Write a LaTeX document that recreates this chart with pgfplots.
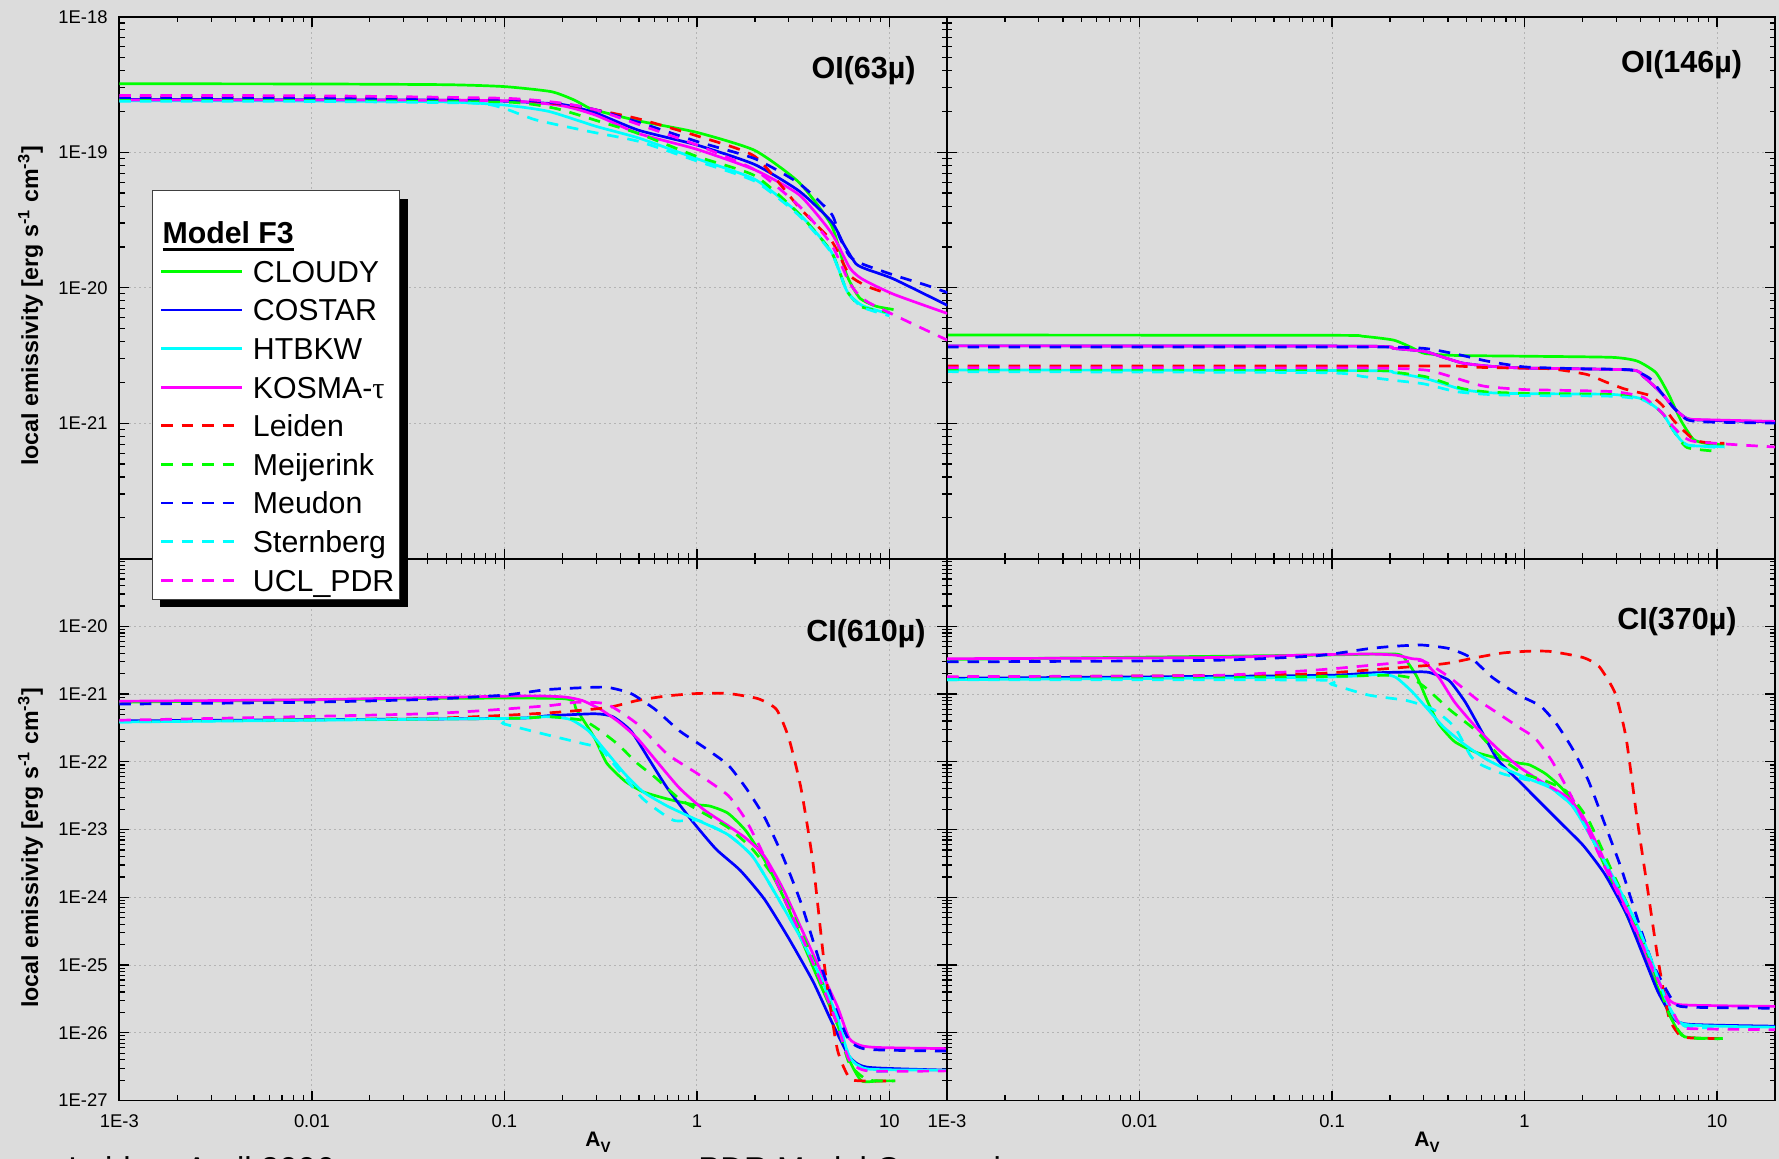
\documentclass[border=0pt]{standalone}
\usepackage{fontspec}
\setmainfont{Liberation Sans}
\newfontfamily\serifgreek{Liberation Serif}
\usepackage{pgfplots}
\pgfplotsset{compat=1.18}
\usetikzlibrary{shadows}

\definecolor{bg}{RGB}{220,220,220}
\definecolor{gridc}{RGB}{180,180,180}
\definecolor{cG}{RGB}{0,255,0}
\definecolor{cB}{RGB}{0,0,255}
\definecolor{cC}{RGB}{0,255,255}
\definecolor{cM}{RGB}{255,0,255}
\definecolor{cR}{RGB}{255,0,0}

\newcommand\ulbf[1]{\smash{\vtop{\hbox{\bfseries #1}\kern1.9pt\hrule height 1.5pt}}}

\makeatletter
\tikzset{clearpre/.code={\def\tikz@preactions{}\def\tikz@postactions{}}}
\makeatother

\tikzset{
 solA/.style={solid, line width=1.35pt, smooth, tension=0.35},
 dasA/.style={dash pattern=on 5.75pt off 4.5pt, line width=1.35pt, smooth, tension=0.35},
 cloudy/.style={solA, color=cG},
 costar/.style={solA, color=cB},
 htbkw/.style={solA, color=cC},
 kosma/.style={solA, color=cM},
 leiden/.style={dasA, color=cR},
 meijerink/.style={dasA, color=cG},
 meudon/.style={dasA, color=cB},
 sternberg/.style={dasA, color=cC},
 ucl/.style={dasA, color=cM},
}

\pgfplotsset{
 basepanelA/.style={
  scale only axis, width=414pt, height=270.95pt,
  xmin=1e-3, xmax=20,
  axis line style={black, line width=0.9pt},
  tick style={black, line width=0.6pt},
  major tick length=5pt, minor tick length=2.75pt,
  grid=major,
  major grid style={gridc, line width=0.5pt, dash pattern=on 1pt off 1.5pt},
  tick label style={font=\fontsize{9.2pt}{11pt}\selectfont, inner sep=0pt},
  yticklabel style={xshift=-5.7pt},
  xticklabel style={yshift=-6.75pt},
  xtick={1e-3,1e-2,1e-1,1,10},
  minor xtick={2e-3,3e-3,4e-3,5e-3,6e-3,7e-3,8e-3,9e-3,2e-2,3e-2,4e-2,5e-2,6e-2,7e-2,8e-2,9e-2,0.2,0.3,0.4,0.5,0.6,0.7,0.8,0.9,2,3,4,5,6,7,8,9},
 },
 toppanelA/.style={basepanelA, ymin=1e-22, ymax=1e-18,
  ytick={1e-22,1e-21,1e-20,1e-19,1e-18},
  minor ytick={2e-22,3e-22,4e-22,5e-22,6e-22,7e-22,8e-22,9e-22,2e-21,3e-21,4e-21,5e-21,6e-21,7e-21,8e-21,9e-21,2e-20,3e-20,4e-20,5e-20,6e-20,7e-20,8e-20,9e-20,2e-19,3e-19,4e-19,5e-19,6e-19,7e-19,8e-19,9e-19},
  xticklabels={,,,,,,}},
 botpanelA/.style={basepanelA, ymin=1e-27, ymax=1e-19,
  xticklabels={1E-3,0.01,0.1,1,10},
  ytick={1e-27,1e-26,1e-25,1e-24,1e-23,1e-22,1e-21,1e-20,1e-19},
  minor ytick={2e-27,3e-27,4e-27,5e-27,6e-27,7e-27,8e-27,9e-27,2e-26,3e-26,4e-26,5e-26,6e-26,7e-26,8e-26,9e-26,2e-25,3e-25,4e-25,5e-25,6e-25,7e-25,8e-25,9e-25,2e-24,3e-24,4e-24,5e-24,6e-24,7e-24,8e-24,9e-24,2e-23,3e-23,4e-23,5e-23,6e-23,7e-23,8e-23,9e-23,2e-22,3e-22,4e-22,5e-22,6e-22,7e-22,8e-22,9e-22,2e-21,3e-21,4e-21,5e-21,6e-21,7e-21,8e-21,9e-21,2e-20,3e-20,4e-20,5e-20,6e-20,7e-20,8e-20,9e-20}},
}

\begin{document}
\begin{tikzpicture}
\useasboundingbox (0pt,0pt) rectangle (889.5pt,579.5pt);
\clip (0pt,0pt) rectangle (889.5pt,579.5pt);
\fill[bg] (0pt,0pt) rectangle (889.5pt,579.5pt);

% ---------------- bottom left: CI(610)
\begin{axis}[xmode=log, ymode=log, botpanelA, at={(59.7pt,29.25pt)}, anchor=south west,
  yticklabels={1E-27,1E-26,1E-25,1E-24,1E-23,1E-22,1E-21,1E-20,}]
\addplot[cloudy] coordinates {(1e-3,7.56e-22)(0.0385,8.6e-22)(0.204,8.54e-22)(0.236,5.93e-22)(0.294,2.24e-22)(0.34,9.56e-23)(0.422,5.21e-23)(0.525,3.61e-23)(0.702,2.83e-23)(0.938,2.36e-23)(1.167,2.22e-23)(1.45,1.74e-23)(1.80,9.5e-24)(2.24,3.58e-24)(2.79,1.06e-24)(3.47,2.47e-25)(4.31,5.7e-26)(5.36,1.33e-26)(6.19,3.95e-27)(7.16,1.95e-27)(8.9,1.95e-27)(10.7,1.95e-27)};
\addplot[costar] coordinates {(1e-3,4.02e-22)(0.0989,4.37e-22)(0.164,4.76e-22)(0.294,5.12e-22)(0.365,4.65e-22)(0.454,2.86e-22)(0.565,1.08e-22)(0.702,4.08e-23)(0.938,1.37e-23)(1.255,5.16e-24)(1.68,2.49e-24)(2.24,9.4e-25)(3.0,2.47e-25)(4.01,5.7e-26)(4.98,1.51e-26)(6.19,4.46e-27)(7.7,3.10e-27)(20,2.81e-27)};
\addplot[htbkw] coordinates {(1e-3,3.87e-22)(0.0989,4.37e-22)(0.164,4.65e-22)(0.22,4.22e-22)(0.273,2.86e-22)(0.34,1.38e-22)(0.422,6.64e-23)(0.525,3.61e-23)(0.702,2.22e-23)(1.01,1.37e-23)(1.45,8.4e-24)(1.94,4.05e-24)(2.59,1.06e-24)(3.47,2.47e-25)(4.31,7.3e-26)(5.36,1.70e-26)(6.19,4.46e-27)(7.7,2.92e-27)(20,2.81e-27)};
\addplot[kosma] coordinates {(1e-3,7.84e-22)(0.009,8.23e-22)(0.0385,8.86e-22)(0.132,9.41e-22)(0.204,9.07e-22)(0.254,8.03e-22)(0.316,5.93e-22)(0.393,3.87e-22)(0.489,2.24e-22)(0.607,1.08e-22)(0.812,4.08e-23)(1.085,1.97e-23)(1.45,1.14e-23)(1.80,7.4e-24)(2.24,4.05e-24)(2.79,1.36e-24)(3.47,3.56e-25)(4.31,9.3e-26)(5.36,2.45e-26)(6.19,8.2e-27)(7.16,6.43e-27)(8.9,6.05e-27)(20,5.83e-27)};
\addplot[leiden] coordinates {(1e-3,4.02e-22)(0.0385,4.37e-22)(0.164,5.25e-22)(0.34,6.30e-22)(0.489,8.03e-22)(0.702,9.41e-22)(1.01,1.02e-21)(1.45,1.02e-21)(2.08,8.54e-22)(2.59,5.93e-22)(3.0,2.24e-22)(3.47,4.08e-23)(4.01,3.18e-24)(4.63,8.3e-26)(5.36,5.69e-27)(6.19,2.15e-27)(7.16,1.95e-27)(10.7,1.95e-27)};
\addplot[meijerink] coordinates {(1e-3,4.02e-22)(0.0989,4.37e-22)(0.164,4.65e-22)(0.254,4.11e-22)(0.316,2.86e-22)(0.393,1.76e-22)(0.489,9.56e-23)(0.607,5.88e-23)(0.812,2.83e-23)(1.085,1.74e-23)(1.45,1.07e-23)(1.94,5.16e-24)(2.59,1.73e-24)(3.47,3.15e-25)(4.31,7.3e-26)(5.36,1.33e-26)(6.19,3.50e-27)(7.7,2.02e-27)(10.7,1.95e-27)};
\addplot[meudon] coordinates {(1e-3,7.11e-22)(0.009,7.56e-22)(0.0385,8.33e-22)(0.0989,9.64e-22)(0.164,1.16e-21)(0.236,1.23e-21)(0.34,1.26e-21)(0.454,1.02e-21)(0.607,5.93e-22)(0.812,2.86e-22)(1.085,1.65e-22)(1.45,9.0e-23)(1.80,4.08e-23)(2.24,1.54e-23)(2.79,4.05e-24)(3.47,8.3e-25)(4.31,1.19e-25)(5.36,1.92e-26)(6.19,7.7e-27)(7.7,5.69e-27)(20,5.36e-27)};
\addplot[sternberg] coordinates {(1e-3,3.87e-22)(0.0797,4.37e-22)(0.0989,3.64e-22)(0.164,2.53e-22)(0.254,1.87e-22)(0.316,1.56e-22)(0.393,7.5e-23)(0.525,2.83e-23)(0.755,1.37e-23)(1.01,1.37e-23)(1.45,8.4e-24)(1.94,4.05e-24)(2.59,1.06e-24)(3.47,2.47e-25)(4.31,7.3e-26)(5.36,1.70e-26)(6.19,4.46e-27)(7.7,2.74e-27)(10.7,2.74e-27)};
\addplot[ucl] coordinates {(1e-3,4.11e-22)(0.0385,5.12e-22)(0.164,6.69e-22)(0.236,7.56e-22)(0.34,7.11e-22)(0.489,3.64e-22)(0.702,1.30e-22)(1.01,6.64e-23)(1.45,3.20e-23)(1.80,1.37e-23)(2.24,4.05e-24)(2.79,1.06e-24)(3.47,2.79e-25)(4.31,6.5e-26)(5.36,1.33e-26)(6.19,3.95e-27)(7.7,2.74e-27)(20,2.74e-27)};
\end{axis}

% ---------------- bottom right: CI(370)
\begin{axis}[xmode=log, ymode=log, botpanelA, at={(473.5pt,29.25pt)}, anchor=south west, yticklabels={,,,,,,,,,,}]
\addplot[cloudy] coordinates {(1e-3,3.25e-21)(0.082,3.76e-21)(0.214,3.90e-21)(0.244,3.06e-21)(0.277,1.77e-21)(0.315,7.56e-22)(0.358,3.64e-22)(0.434,1.98e-22)(0.56,1.38e-22)(0.772,1.08e-22)(0.935,9.56e-23)(1.063,9.0e-23)(1.288,6.64e-23)(1.561,4.08e-23)(1.891,1.97e-23)(2.29,6.59e-24)(2.78,1.95e-24)(3.37,5.78e-25)(4.08,1.71e-25)(4.94,4.5e-26)(5.99,1.33e-26)(6.8,8.7e-27)(10.7,8.2e-27)};
\addplot[costar] coordinates {(1e-3,1.71e-21)(0.082,1.88e-21)(0.1555,2.05e-21)(0.295,2.13e-21)(0.336,2.0e-21)(0.407,1.57e-21)(0.493,7.56e-22)(0.597,2.86e-22)(0.724,1.08e-22)(0.935,5.21e-23)(1.208,2.51e-23)(1.561,1.21e-23)(2.017,5.83e-24)(2.61,2.20e-24)(3.37,5.78e-25)(4.08,1.52e-25)(4.94,3.98e-26)(5.99,1.60e-26)(7.26,1.33e-26)(20,1.25e-26)};
\addplot[htbkw] coordinates {(1e-3,1.63e-21)(0.082,1.77e-21)(0.177,1.95e-21)(0.214,1.77e-21)(0.26,1.09e-21)(0.315,5.93e-22)(0.381,3.23e-22)(0.493,1.76e-22)(0.637,1.08e-22)(0.823,7.5e-23)(1.063,5.53e-23)(1.373,4.08e-23)(1.774,2.22e-23)(2.29,6.59e-24)(2.96,1.73e-24)(3.83,4.02e-25)(4.63,1.05e-25)(5.62,2.45e-26)(6.8,1.33e-26)(20,1.21e-26)};
\addplot[kosma] coordinates {(1e-3,3.33e-21)(0.0228,3.46e-21)(0.082,3.81e-21)(0.1555,3.90e-21)(0.214,3.76e-21)(0.26,3.33e-21)(0.295,3.14e-21)(0.358,1.77e-21)(0.434,7.56e-22)(0.56,3.23e-22)(0.724,1.56e-22)(0.935,8.47e-23)(1.208,5.21e-23)(1.664,3.01e-23)(2.017,1.54e-23)(2.44,5.16e-24)(2.96,1.53e-24)(3.83,3.15e-25)(4.63,8.3e-26)(5.62,3.12e-26)(6.38,2.6e-26)(10,2.51e-26)(20,2.45e-26)};
\addplot[leiden] coordinates {(1e-3,1.77e-21)(0.0228,1.88e-21)(0.082,2.0e-21)(0.295,2.61e-21)(0.407,2.88e-21)(0.56,3.46e-21)(0.772,4.05e-21)(1.063,4.30e-21)(1.373,4.25e-21)(2.017,3.46e-21)(2.44,2.55e-21)(2.96,1.02e-21)(3.37,2.24e-22)(3.83,1.54e-23)(4.35,1.36e-24)(4.94,1.19e-25)(5.62,1.70e-26)(6.38,9.26e-27)(7.26,8.4e-27)(10.7,8.2e-27)};
\addplot[meijerink] coordinates {(1e-3,1.67e-21)(0.082,1.81e-21)(0.1555,1.88e-21)(0.214,1.88e-21)(0.26,1.71e-21)(0.315,1.16e-21)(0.407,5.93e-22)(0.56,2.86e-22)(0.772,1.08e-22)(0.997,6.64e-23)(1.288,5.21e-23)(1.664,3.61e-23)(2.15,1.37e-23)(2.78,2.81e-24)(3.59,5.78e-25)(4.63,9.3e-26)(5.62,1.92e-26)(6.8,8.7e-27)(10.7,8.2e-27)};
\addplot[meudon] coordinates {(1e-3,2.99e-21)(0.0228,3.14e-21)(0.082,3.67e-21)(0.1555,4.69e-21)(0.214,5.10e-21)(0.295,5.29e-21)(0.407,4.69e-21)(0.525,3.46e-21)(0.679,1.77e-21)(0.935,9.64e-22)(1.208,6.69e-22)(1.464,3.64e-22)(1.774,1.56e-22)(2.15,5.21e-23)(2.61,1.21e-23)(3.16,2.81e-24)(3.83,5.12e-25)(4.63,1.05e-25)(5.99,2.77e-26)(7.26,2.39e-26)(20,2.30e-26)};
\addplot[sternberg] coordinates {(1e-3,1.63e-21)(0.082,1.61e-21)(0.0994,1.39e-21)(0.1555,9.64e-22)(0.244,8.03e-22)(0.336,5.93e-22)(0.434,3.23e-22)(0.525,1.22e-22)(0.597,9.0e-23)(0.772,6.64e-23)(0.997,5.53e-23)(1.288,4.61e-23)(1.774,2.22e-23)(2.29,6.59e-24)(2.96,1.73e-24)(3.83,4.02e-25)(4.63,1.05e-25)(5.62,2.45e-26)(6.8,1.25e-26)(10.7,1.18e-26)};
\addplot[ucl] coordinates {(1e-3,1.81e-21)(0.0228,1.88e-21)(0.082,2.26e-21)(0.214,2.88e-21)(0.295,3.10e-21)(0.407,1.77e-21)(0.56,8.54e-22)(0.724,5.25e-22)(0.935,3.23e-22)(1.133,2.24e-22)(1.373,1.08e-22)(1.664,4.08e-23)(2.017,1.37e-23)(2.61,2.81e-24)(3.37,6.53e-25)(4.35,1.34e-25)(5.27,4.0e-26)(6.38,1.33e-26)(7.26,1.15e-26)(20,1.11e-26)};
\end{axis}

% ---------------- top right: OI(146)
\begin{axis}[xmode=log, ymode=log, toppanelA, at={(473.5pt,300.2pt)}, anchor=south west, yticklabels={,,,,,,}]
\addplot[cloudy] coordinates {(1e-3,4.47e-21)(0.1,4.45e-21)(0.144,4.38e-21)(0.209,4.10e-21)(0.261,3.6e-21)(0.303,3.27e-21)(0.44,3.16e-21)(1,3.12e-21)(2.85,3.06e-21)(3.85,2.87e-21)(4.81,2.36e-21)(5.58,1.65e-21)(6.48,1.05e-21)(7.53,7.6e-22)(8.74,7.1e-22)(10.9,6.9e-22)};
\addplot[costar] coordinates {(1e-3,3.72e-21)(0.144,3.70e-21)(0.209,3.56e-21)(0.303,3.38e-21)(0.38,3.06e-21)(0.475,2.78e-21)(0.64,2.64e-21)(1,2.55e-21)(3.57,2.47e-21)(4.14,2.21e-21)(5.18,1.65e-21)(6.01,1.28e-21)(6.99,1.08e-21)(8.74,1.05e-21)(20,1.02e-21)};
\addplot[htbkw] coordinates {(1e-3,2.47e-21)(0.144,2.44e-21)(0.209,2.36e-21)(0.303,2.14e-21)(0.38,1.95e-21)(0.475,1.77e-21)(0.64,1.68e-21)(1,1.65e-21)(2.85,1.63e-21)(4.14,1.50e-21)(5.18,1.19e-21)(6.01,8.6e-22)(6.99,6.9e-22)(10.9,6.7e-22)};
\addplot[kosma] coordinates {(1e-3,3.72e-21)(0.144,3.70e-21)(0.209,3.56e-21)(0.303,3.38e-21)(0.38,3.06e-21)(0.475,2.78e-21)(0.64,2.64e-21)(1,2.55e-21)(3.57,2.47e-21)(4.14,2.21e-21)(5.18,1.65e-21)(6.01,1.28e-21)(6.99,1.08e-21)(8.74,1.06e-21)(20,1.03e-21)};
\addplot[leiden] coordinates {(1e-3,2.64e-21)(0.303,2.64e-21)(0.44,2.64e-21)(0.64,2.57e-21)(1.35,2.52e-21)(2.1,2.29e-21)(2.65,2.01e-21)(3.3,1.79e-21)(4.47,1.60e-21)(5.18,1.36e-21)(6.01,1.03e-21)(7.53,7.6e-22)(8.74,7.2e-22)(10.9,7.1e-22)};
\addplot[meijerink] coordinates {(1e-3,2.47e-21)(0.144,2.45e-21)(0.209,2.38e-21)(0.303,2.21e-21)(0.38,2.0e-21)(0.475,1.8e-21)(0.64,1.7e-21)(1,1.66e-21)(2.85,1.63e-21)(4.14,1.5e-21)(5.18,1.19e-21)(6.01,8.6e-22)(6.99,6.6e-22)(10,6.2e-22)};
\addplot[meudon] coordinates {(1e-3,3.65e-21)(0.144,3.65e-21)(0.303,3.56e-21)(0.475,3.16e-21)(0.64,2.87e-21)(1,2.6e-21)(1.96,2.52e-21)(3.57,2.47e-21)(4.47,2.14e-21)(5.18,1.65e-21)(6.01,1.28e-21)(6.99,1.06e-21)(8.74,1.02e-21)(20,1.0e-21)};
\addplot[sternberg] coordinates {(1e-3,2.4e-21)(0.085,2.36e-21)(0.144,2.21e-21)(0.209,2.07e-21)(0.3,1.95e-21)(0.44,1.71e-21)(0.64,1.63e-21)(1,1.6e-21)(2.85,1.58e-21)(4.14,1.48e-21)(5.18,1.19e-21)(6.01,8.6e-22)(6.99,6.9e-22)(10.9,6.6e-22)};
\addplot[ucl] coordinates {(1e-3,2.57e-21)(0.144,2.55e-21)(0.303,2.47e-21)(0.38,2.29e-21)(0.55,1.95e-21)(0.64,1.86e-21)(1,1.77e-21)(2.85,1.71e-21)(4.14,1.55e-21)(5.18,1.19e-21)(6.01,9.2e-22)(7.53,7.35e-22)(20,6.67e-22)};
\end{axis}

% ---------------- top left: OI(63) with legend
\begin{axis}[xmode=log, ymode=log, toppanelA, at={(59.7pt,300.2pt)}, anchor=south west,
  yticklabels={,1E-21,1E-20,1E-19,1E-18},
  legend image code/.code={\path[clearpre, draw=none, fill=none] (-1.7pt,0pt) rectangle (40.5pt,10.8pt); \draw[clearpre, fill=none, #1] (0pt,5.4pt) -- (40.5pt,5.4pt);},
  legend style={at={(0.039,0.680)}, anchor=north west, draw=black!75, line width=0.5pt, fill=white,
    inner xsep=2.8pt, inner ysep=2.6pt, row sep={19.3pt,between origins}, column sep=4.7pt,
    nodes={inner sep=0pt}, cells={anchor=base west},
    font=\fontsize{15.15pt}{18pt}\selectfont,
    drop shadow={shadow xshift=4pt, shadow yshift=-4pt, fill=black, opacity=1}}]
\addlegendimage{legend image code/.code={\path[clearpre, draw=none, fill=none] (0pt,0pt) rectangle (1pt,23.9pt);}}
\addlegendentry{\hspace*{-45.2pt}\ulbf{Model F3}}
\addplot[cloudy] coordinates {(1e-3,3.2e-19)(0.01,3.19e-19)(0.05,3.15e-19)(0.1,3.05e-19)(0.175,2.8e-19)(0.23,2.43e-19)(0.277,2.11e-19)(0.314,2.0e-19)(0.5,1.7e-19)(1,1.4e-19)(2,1.03e-19)(3.4,5.96e-20)(5,2.88e-20)(6,1.24e-20)(7,8.4e-21)(8.5,7.3e-21)(10.5,6.9e-21)};
\addlegendentry{CLOUDY}
\addplot[costar] coordinates {(1e-3,2.45e-19)(0.01,2.44e-19)(0.05,2.42e-19)(0.1,2.38e-19)(0.2,2.25e-19)(0.3,1.94e-19)(0.5,1.45e-19)(1,1.13e-19)(2,8.1e-20)(3.4,5.16e-20)(5,3.07e-20)(5.8,2.08e-20)(6.7,1.5e-20)(7.7,1.36e-20)(10.5,1.16e-20)(20,7.4e-21)};
\addlegendentry{COSTAR}
\addplot[htbkw] coordinates {(1e-3,2.4e-19)(0.01,2.39e-19)(0.05,2.35e-19)(0.1,2.23e-19)(0.17,2.0e-19)(0.3,1.55e-19)(0.5,1.27e-19)(1,8.95e-20)(2,6.3e-20)(3.4,3.5e-20)(5,1.83e-20)(6,9.5e-21)(7.2,7.4e-21)(10,6.4e-21)};
\addlegendentry{HTBKW}
\addplot[kosma] coordinates {(1e-3,2.43e-19)(0.01,2.43e-19)(0.1,2.4e-19)(0.2,2.2e-19)(0.3,1.87e-19)(0.5,1.37e-19)(1,1.05e-19)(2,7.4e-20)(3.4,4.84e-20)(5,2.53e-20)(6.2,1.41e-20)(7.2,1.16e-20)(10.5,8.95e-21)(20,6.45e-21)};
\addlegendentry{KOSMA-{\serifgreek τ}}
\addplot[leiden] coordinates {(1e-3,2.55e-19)(0.01,2.54e-19)(0.1,2.45e-19)(0.2,2.25e-19)(0.3,2.05e-19)(0.5,1.76e-19)(1,1.32e-19)(2,9.3e-20)(3.4,3.9e-20)(5,2.22e-20)(6.2,1.24e-20)(7.7,1.02e-20)(10,8.95e-21)};
\addlegendentry{Leiden}
\addplot[meijerink] coordinates {(1e-3,2.45e-19)(0.01,2.44e-19)(0.1,2.35e-19)(0.183,2.11e-19)(0.314,1.68e-19)(0.5,1.37e-19)(1,9.3e-20)(2,6.7e-20)(3.4,3.5e-20)(5,1.83e-20)(6,9.5e-21)(7.2,7.2e-21)(10,6.6e-21)};
\addlegendentry{Meijerink}
\addplot[meudon] coordinates {(1e-3,2.53e-19)(0.01,2.52e-19)(0.1,2.45e-19)(0.2,2.28e-19)(0.3,2.05e-19)(0.5,1.66e-19)(1,1.2e-19)(2,8.95e-20)(3.4,5.87e-20)(5,3.5e-20)(5.5,2.37e-20)(6.2,1.71e-20)(7.2,1.5e-20)(10.5,1.24e-20)(15.3,1.05e-20)(20,9.2e-21)};
\addlegendentry{Meudon}
\addplot[sternberg] coordinates {(1e-3,2.38e-19)(0.01,2.37e-19)(0.07,2.3e-19)(0.1,2.1e-19)(0.146,1.73e-19)(0.277,1.42e-19)(0.5,1.2e-19)(1,8.6e-20)(2,6.1e-20)(3.4,3.4e-20)(5,1.8e-20)(6,9.5e-21)(7.2,7.2e-21)(10,6.2e-21)};
\addlegendentry{Sternberg}
\addplot[ucl] coordinates {(1e-3,2.62e-19)(0.01,2.61e-19)(0.1,2.5e-19)(0.2,2.3e-19)(0.3,2.05e-19)(0.5,1.6e-19)(1,1.13e-19)(2,7.4e-20)(3.4,4.0e-20)(5,2.08e-20)(6.2,1.09e-20)(7.7,7.85e-21)(20,4.1e-21)};
\addlegendentry{UCL\_PDR}
\end{axis}

% ---------------- titles and labels
\begin{scope}[font=\fontsize{15.25pt}{17pt}\selectfont\bfseries]
\node[anchor=base east, inner sep=0pt] at (458pt,540pt) {OI(63µ)};
\node[anchor=base east, inner sep=0pt] at (871.2pt,543pt) {OI(146µ)};
\node[anchor=base east, inner sep=0pt] at (463pt,258.5pt) {CI(610µ)};
\node[anchor=base east, inner sep=0pt] at (868.5pt,264.5pt) {CI(370µ)};
\end{scope}
\node[rotate=90, inner sep=0pt, font=\fontsize{11.6pt}{13pt}\selectfont\bfseries] at (15.3pt,426.5pt) {local emissivity [erg s\textsuperscript{-1} cm\textsuperscript{-3}]};
\node[rotate=90, inner sep=0pt, font=\fontsize{11.6pt}{13pt}\selectfont\bfseries] at (15.3pt,155.5pt) {local emissivity [erg s\textsuperscript{-1} cm\textsuperscript{-3}]};
\node[anchor=base, inner sep=0pt, font=\fontsize{10.5pt}{12pt}\selectfont\bfseries] at (299pt,6pt) {A\raisebox{-3pt}{\fontsize{7.5pt}{8pt}\selectfont V}};
\node[anchor=base, inner sep=0pt, font=\fontsize{10.5pt}{12pt}\selectfont\bfseries] at (713.5pt,6pt) {A\raisebox{-3pt}{\fontsize{7.5pt}{8pt}\selectfont V}};
\node[anchor=base west, inner sep=0pt, font=\fontsize{16.5pt}{18pt}\selectfont] at (349pt,-10.8pt) {PDR Model Comparison};
\node[anchor=base west, inner sep=0pt, font=\fontsize{16.5pt}{18pt}\selectfont] at (34pt,-10.8pt) {Leiden, April 2006};
\end{tikzpicture}
\end{document}
